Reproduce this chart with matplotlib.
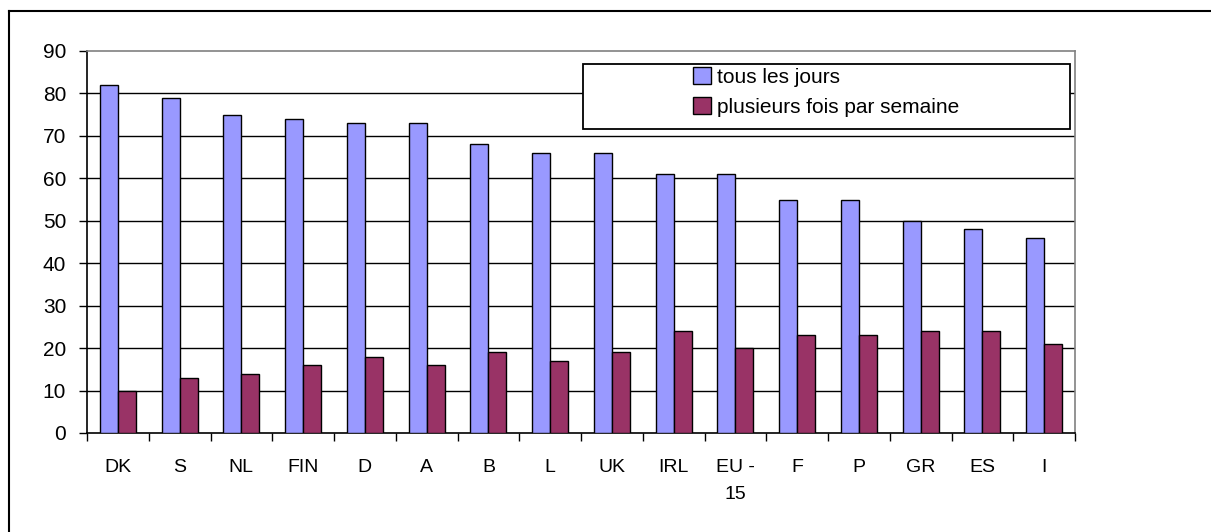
import matplotlib
matplotlib.use('Agg')
from matplotlib import pyplot as plt
from matplotlib.lines import Line2D
from matplotlib.patches import Rectangle
import numpy as np

plt.rcParams['font.family'] = ['Liberation Sans', 'DejaVu Sans']

# data
countries = ['DK', 'S', 'NL', 'FIN', 'D', 'A', 'B', 'L', 'UK', 'IRL', 'EU -\n15',
             'F', 'P', 'GR', 'ES', 'I']
daily = [82, 79, 75, 74, 73, 73, 68, 66, 66, 61, 61, 55, 55, 50, 48, 46]
weekly = [10, 13, 14, 16, 18, 16, 19, 17, 19, 24, 20, 23, 23, 24, 24, 21]
series_names = ['tous les jours', 'plusieurs fois par semaine']

blue = '#9999ff'
purple = '#993366'

fig = plt.figure(figsize=(12.11, 5.32), dpi=100)
ax = fig.add_axes([87/1211, 1 - 433/532, 988/1211, 382/532])

x = np.arange(len(countries))
w = 0.29
ax.bar(x - w/2, daily, w, color=blue, edgecolor='black', linewidth=1,
       label=series_names[0], zorder=3)
ax.bar(x + w/2, weekly, w, color=purple, edgecolor='black', linewidth=1,
       label=series_names[1], zorder=3)

ax.set_xlim(-0.5, len(countries) - 0.5)
ax.set_ylim(0, 90)
ax.set_yticks(range(0, 91, 10))
for v in range(10, 90, 10):
    ax.axhline(v, color='black', linewidth=1, zorder=1)

# spines
ax.spines['left'].set_color('black')
ax.spines['bottom'].set_color('black')
ax.spines['top'].set_color('#808080')
ax.spines['right'].set_color('#808080')
for s in ax.spines.values():
    s.set_linewidth(1.2)

# x ticks: labels at centers, tick marks at category boundaries
ax.set_xticks(x)
ax.set_xticklabels(countries, fontsize=14, linespacing=1.75, va='top')
ax.set_xticks(np.arange(-0.5, len(countries), 1), minor=True)
ax.tick_params(axis='x', which='major', length=0, pad=19)
ax.tick_params(axis='x', which='minor', length=6, width=1, direction='out')
ax.tick_params(axis='y', length=6, width=1, direction='out', pad=9, labelsize=15)

# legend box drawn separately so entries can sit centred in it
ax.add_patch(Rectangle((0.502, 0.796), 0.493, 0.17, transform=ax.transAxes,
                       facecolor='white', edgecolor='black', linewidth=1.3,
                       zorder=4))
leg = ax.legend(loc='center', bbox_to_anchor=(0.7485, 0.893), fontsize=15,
                frameon=False, handlelength=0.85, handleheight=0.85,
                handletextpad=0.3, labelspacing=0.5)
leg.set_zorder(5)

# outer chart border (only left/top visible in the picture)
fig.add_artist(Line2D([9/1211, 9/1211], [0, 1 - 11/532], color='black',
                      linewidth=1.5, transform=fig.transFigure))
fig.add_artist(Line2D([9/1211, 1], [1 - 11/532, 1 - 11/532], color='black',
                      linewidth=1.5, transform=fig.transFigure))

fig.savefig('out.png', dpi=100)
